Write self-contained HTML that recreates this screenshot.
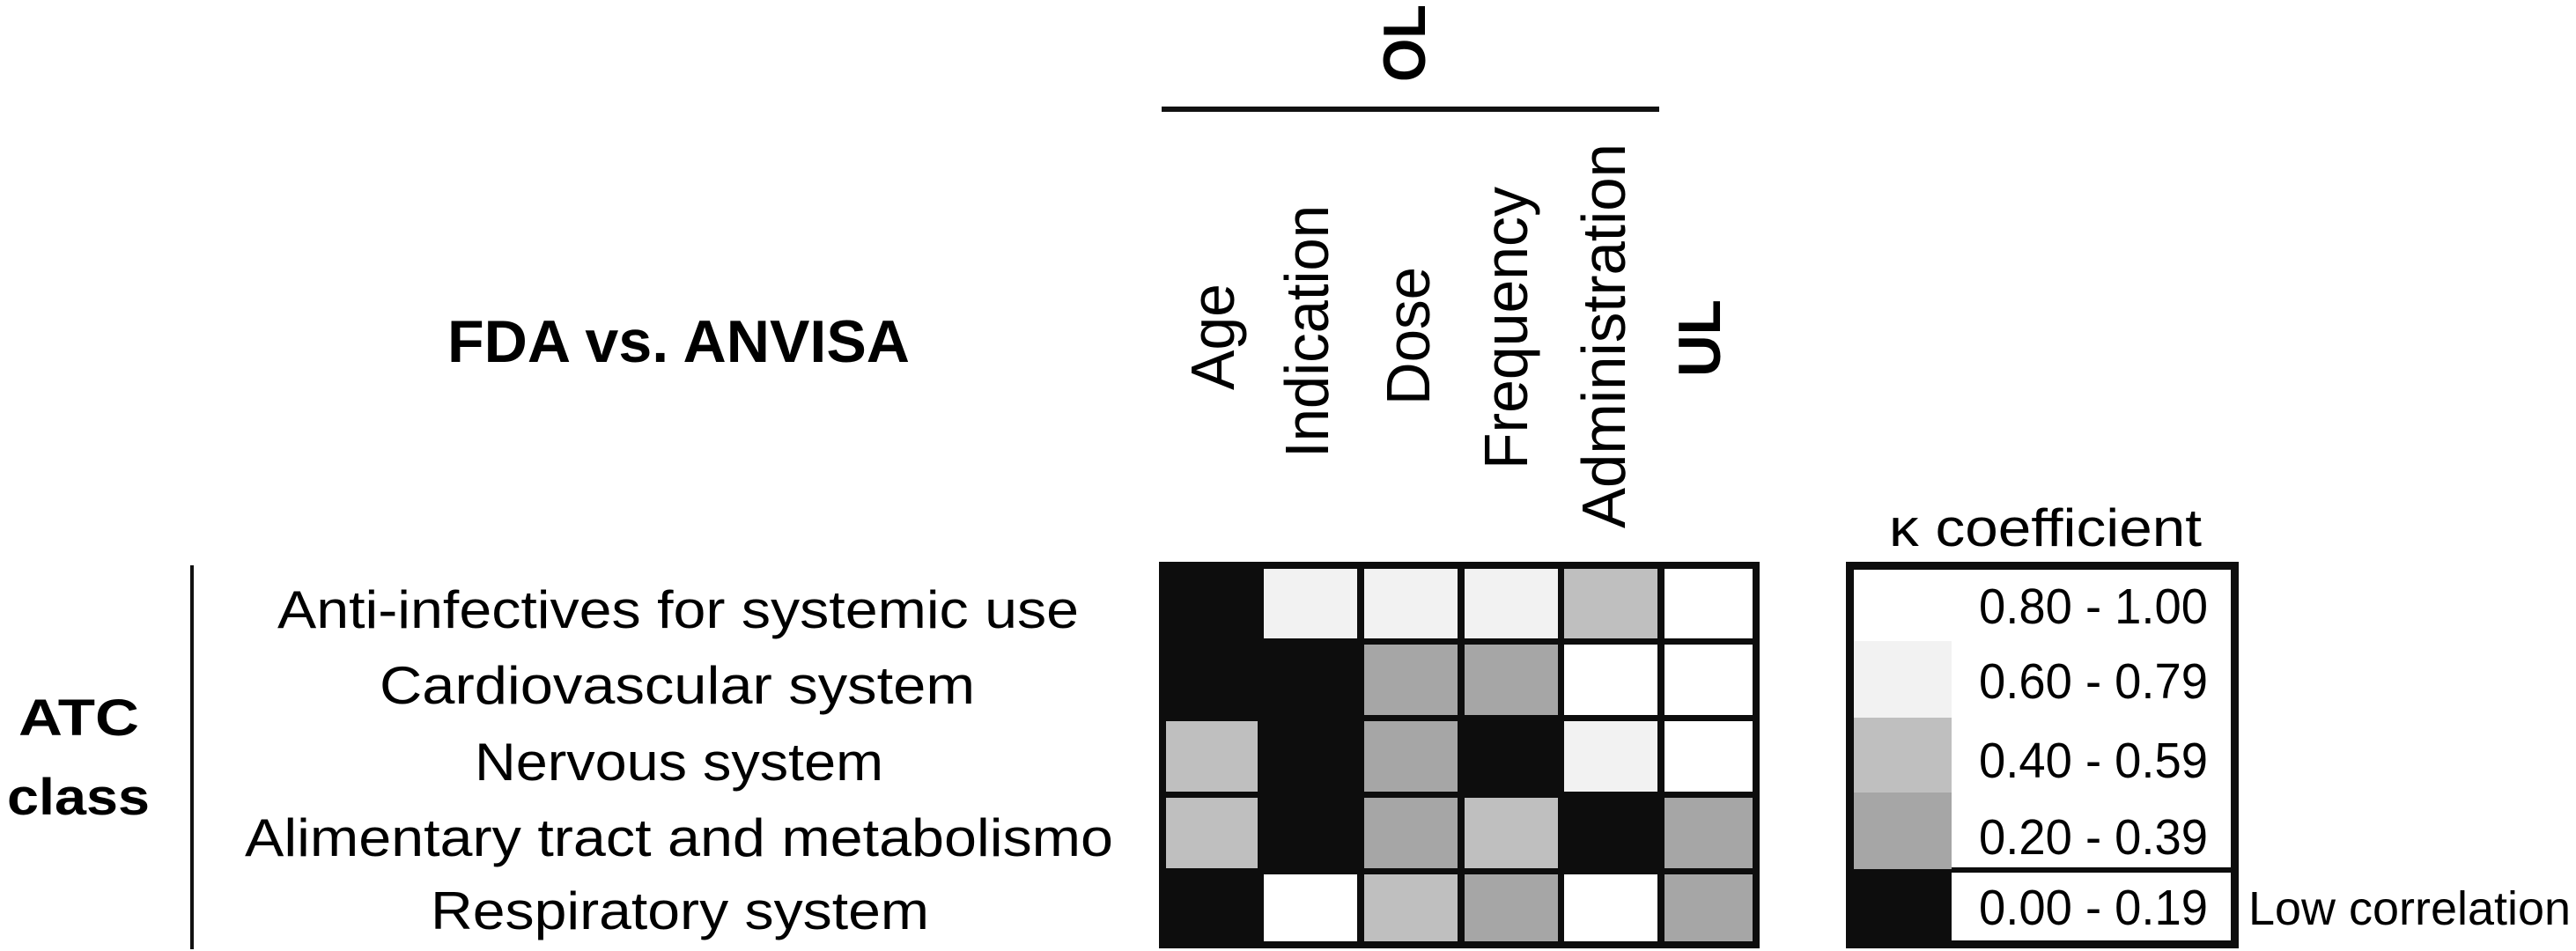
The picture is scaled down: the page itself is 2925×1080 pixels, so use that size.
<!DOCTYPE html>
<html><head><meta charset="utf-8"><style>html,body{margin:0;padding:0;background:#fff}svg{display:block}</style></head>
<body>
<svg width="2925" height="1080" viewBox="0 0 2925 1080" xmlns="http://www.w3.org/2000/svg" font-family="Liberation Sans, Arial, sans-serif">
<rect width="2925" height="1080" fill="#fff"/>
<!-- header -->
<text x="508" y="411" font-size="68" font-weight="bold" textLength="525" lengthAdjust="spacingAndGlyphs">FDA vs. ANVISA</text>
<text transform="translate(1595,93) rotate(-90)" font-size="68" font-weight="bold" dominant-baseline="central" textLength="88" lengthAdjust="spacingAndGlyphs">OL</text>
<rect x="1319" y="121" width="565" height="6" fill="#111"/>
<g font-size="70" dominant-baseline="central">
<text transform="translate(1377,443) rotate(-90)" textLength="121" lengthAdjust="spacingAndGlyphs">Age</text>
<text transform="translate(1484,520) rotate(-90)" textLength="287" lengthAdjust="spacingAndGlyphs">Indication</text>
<text transform="translate(1599,460) rotate(-90)" textLength="157" lengthAdjust="spacingAndGlyphs">Dose</text>
<text transform="translate(1710,533) rotate(-90)" textLength="321" lengthAdjust="spacingAndGlyphs">Frequency</text>
<text transform="translate(1821,600) rotate(-90)" textLength="437" lengthAdjust="spacingAndGlyphs">Administration</text>
</g>
<text transform="translate(1930,428) rotate(-90)" font-size="68" font-weight="bold" dominant-baseline="central" textLength="88" lengthAdjust="spacingAndGlyphs">UL</text>
<!-- left labels -->
<text x="21" y="835" font-size="58" font-weight="bold" textLength="137" lengthAdjust="spacingAndGlyphs">ATC</text>
<text x="8" y="925" font-size="58" font-weight="bold" textLength="162" lengthAdjust="spacingAndGlyphs">class</text>
<rect x="216" y="642" width="4" height="436" fill="#111"/>
<g font-size="60">
<text x="315" y="713" textLength="910" lengthAdjust="spacingAndGlyphs">Anti-infectives for systemic use</text>
<text x="431" y="799" textLength="676" lengthAdjust="spacingAndGlyphs">Cardiovascular system</text>
<text x="539" y="886" textLength="464" lengthAdjust="spacingAndGlyphs">Nervous system</text>
<text x="278" y="972" textLength="986" lengthAdjust="spacingAndGlyphs">Alimentary tract and metabolismo</text>
<text x="489" y="1055" textLength="566" lengthAdjust="spacingAndGlyphs">Respiratory system</text>
</g>
<!-- grid -->
<rect x="1316" y="638" width="682" height="439" fill="#0d0d0d"/>
<g id="cells"></g>
<!-- legend -->
<text x="2145" y="620" font-size="60" textLength="355" lengthAdjust="spacingAndGlyphs">κ coefficient</text>
<rect x="2096" y="638" width="446" height="439" fill="#0d0d0d"/>
<rect x="2105" y="647" width="428" height="421" fill="#fff"/>
<rect x="2105" y="728" width="111" height="87" fill="#f2f2f2"/>
<rect x="2105" y="815" width="111" height="85" fill="#bfbfbf"/>
<rect x="2105" y="900" width="111" height="87" fill="#a6a6a6"/>
<rect x="2105" y="987" width="111" height="81" fill="#0d0d0d"/>
<rect x="2216" y="985" width="317" height="6" fill="#0d0d0d"/>
<g font-size="57">
<text x="2247" y="708" textLength="260" lengthAdjust="spacingAndGlyphs">0.80 - 1.00</text>
<text x="2247" y="793" textLength="260" lengthAdjust="spacingAndGlyphs">0.60 - 0.79</text>
<text x="2247" y="883" textLength="260" lengthAdjust="spacingAndGlyphs">0.40 - 0.59</text>
<text x="2247" y="970" textLength="260" lengthAdjust="spacingAndGlyphs">0.20 - 0.39</text>
<text x="2247" y="1050" textLength="260" lengthAdjust="spacingAndGlyphs">0.00 - 0.19</text>
</g>
<text x="2553" y="1050" font-size="54" textLength="366" lengthAdjust="spacingAndGlyphs">Low correlation</text>
<!-- cells drawn statically -->
<g>
<!-- row 1 -->
<rect x="1324" y="646" width="104" height="79" fill="#0d0d0d"/>
<rect x="1435" y="646" width="106" height="79" fill="#f2f2f2"/>
<rect x="1549" y="646" width="106" height="79" fill="#f2f2f2"/>
<rect x="1663" y="646" width="106" height="79" fill="#f2f2f2"/>
<rect x="1776" y="646" width="106" height="79" fill="#bfbfbf"/>
<rect x="1890" y="646" width="100" height="79" fill="#fff"/>
<!-- row 2 -->
<rect x="1324" y="732" width="104" height="80" fill="#0d0d0d"/>
<rect x="1435" y="732" width="106" height="80" fill="#0d0d0d"/>
<rect x="1549" y="732" width="106" height="80" fill="#a6a6a6"/>
<rect x="1663" y="732" width="106" height="80" fill="#a6a6a6"/>
<rect x="1776" y="732" width="106" height="80" fill="#fff"/>
<rect x="1890" y="732" width="100" height="80" fill="#fff"/>
<!-- row 3 -->
<rect x="1324" y="819" width="104" height="80" fill="#bfbfbf"/>
<rect x="1435" y="819" width="106" height="80" fill="#0d0d0d"/>
<rect x="1549" y="819" width="106" height="80" fill="#a6a6a6"/>
<rect x="1663" y="819" width="106" height="80" fill="#0d0d0d"/>
<rect x="1776" y="819" width="106" height="80" fill="#f2f2f2"/>
<rect x="1890" y="819" width="100" height="80" fill="#fff"/>
<!-- row 4 -->
<rect x="1324" y="906" width="104" height="80" fill="#bfbfbf"/>
<rect x="1435" y="906" width="106" height="80" fill="#0d0d0d"/>
<rect x="1549" y="906" width="106" height="80" fill="#a6a6a6"/>
<rect x="1663" y="906" width="106" height="80" fill="#bfbfbf"/>
<rect x="1776" y="906" width="106" height="80" fill="#0d0d0d"/>
<rect x="1890" y="906" width="100" height="80" fill="#a6a6a6"/>
<!-- row 5 -->
<rect x="1324" y="993" width="104" height="76" fill="#0d0d0d"/>
<rect x="1435" y="993" width="106" height="76" fill="#fff"/>
<rect x="1549" y="993" width="106" height="76" fill="#bfbfbf"/>
<rect x="1663" y="993" width="106" height="76" fill="#a6a6a6"/>
<rect x="1776" y="993" width="106" height="76" fill="#fff"/>
<rect x="1890" y="993" width="100" height="76" fill="#a6a6a6"/>
</g>
</svg>
</body></html>
